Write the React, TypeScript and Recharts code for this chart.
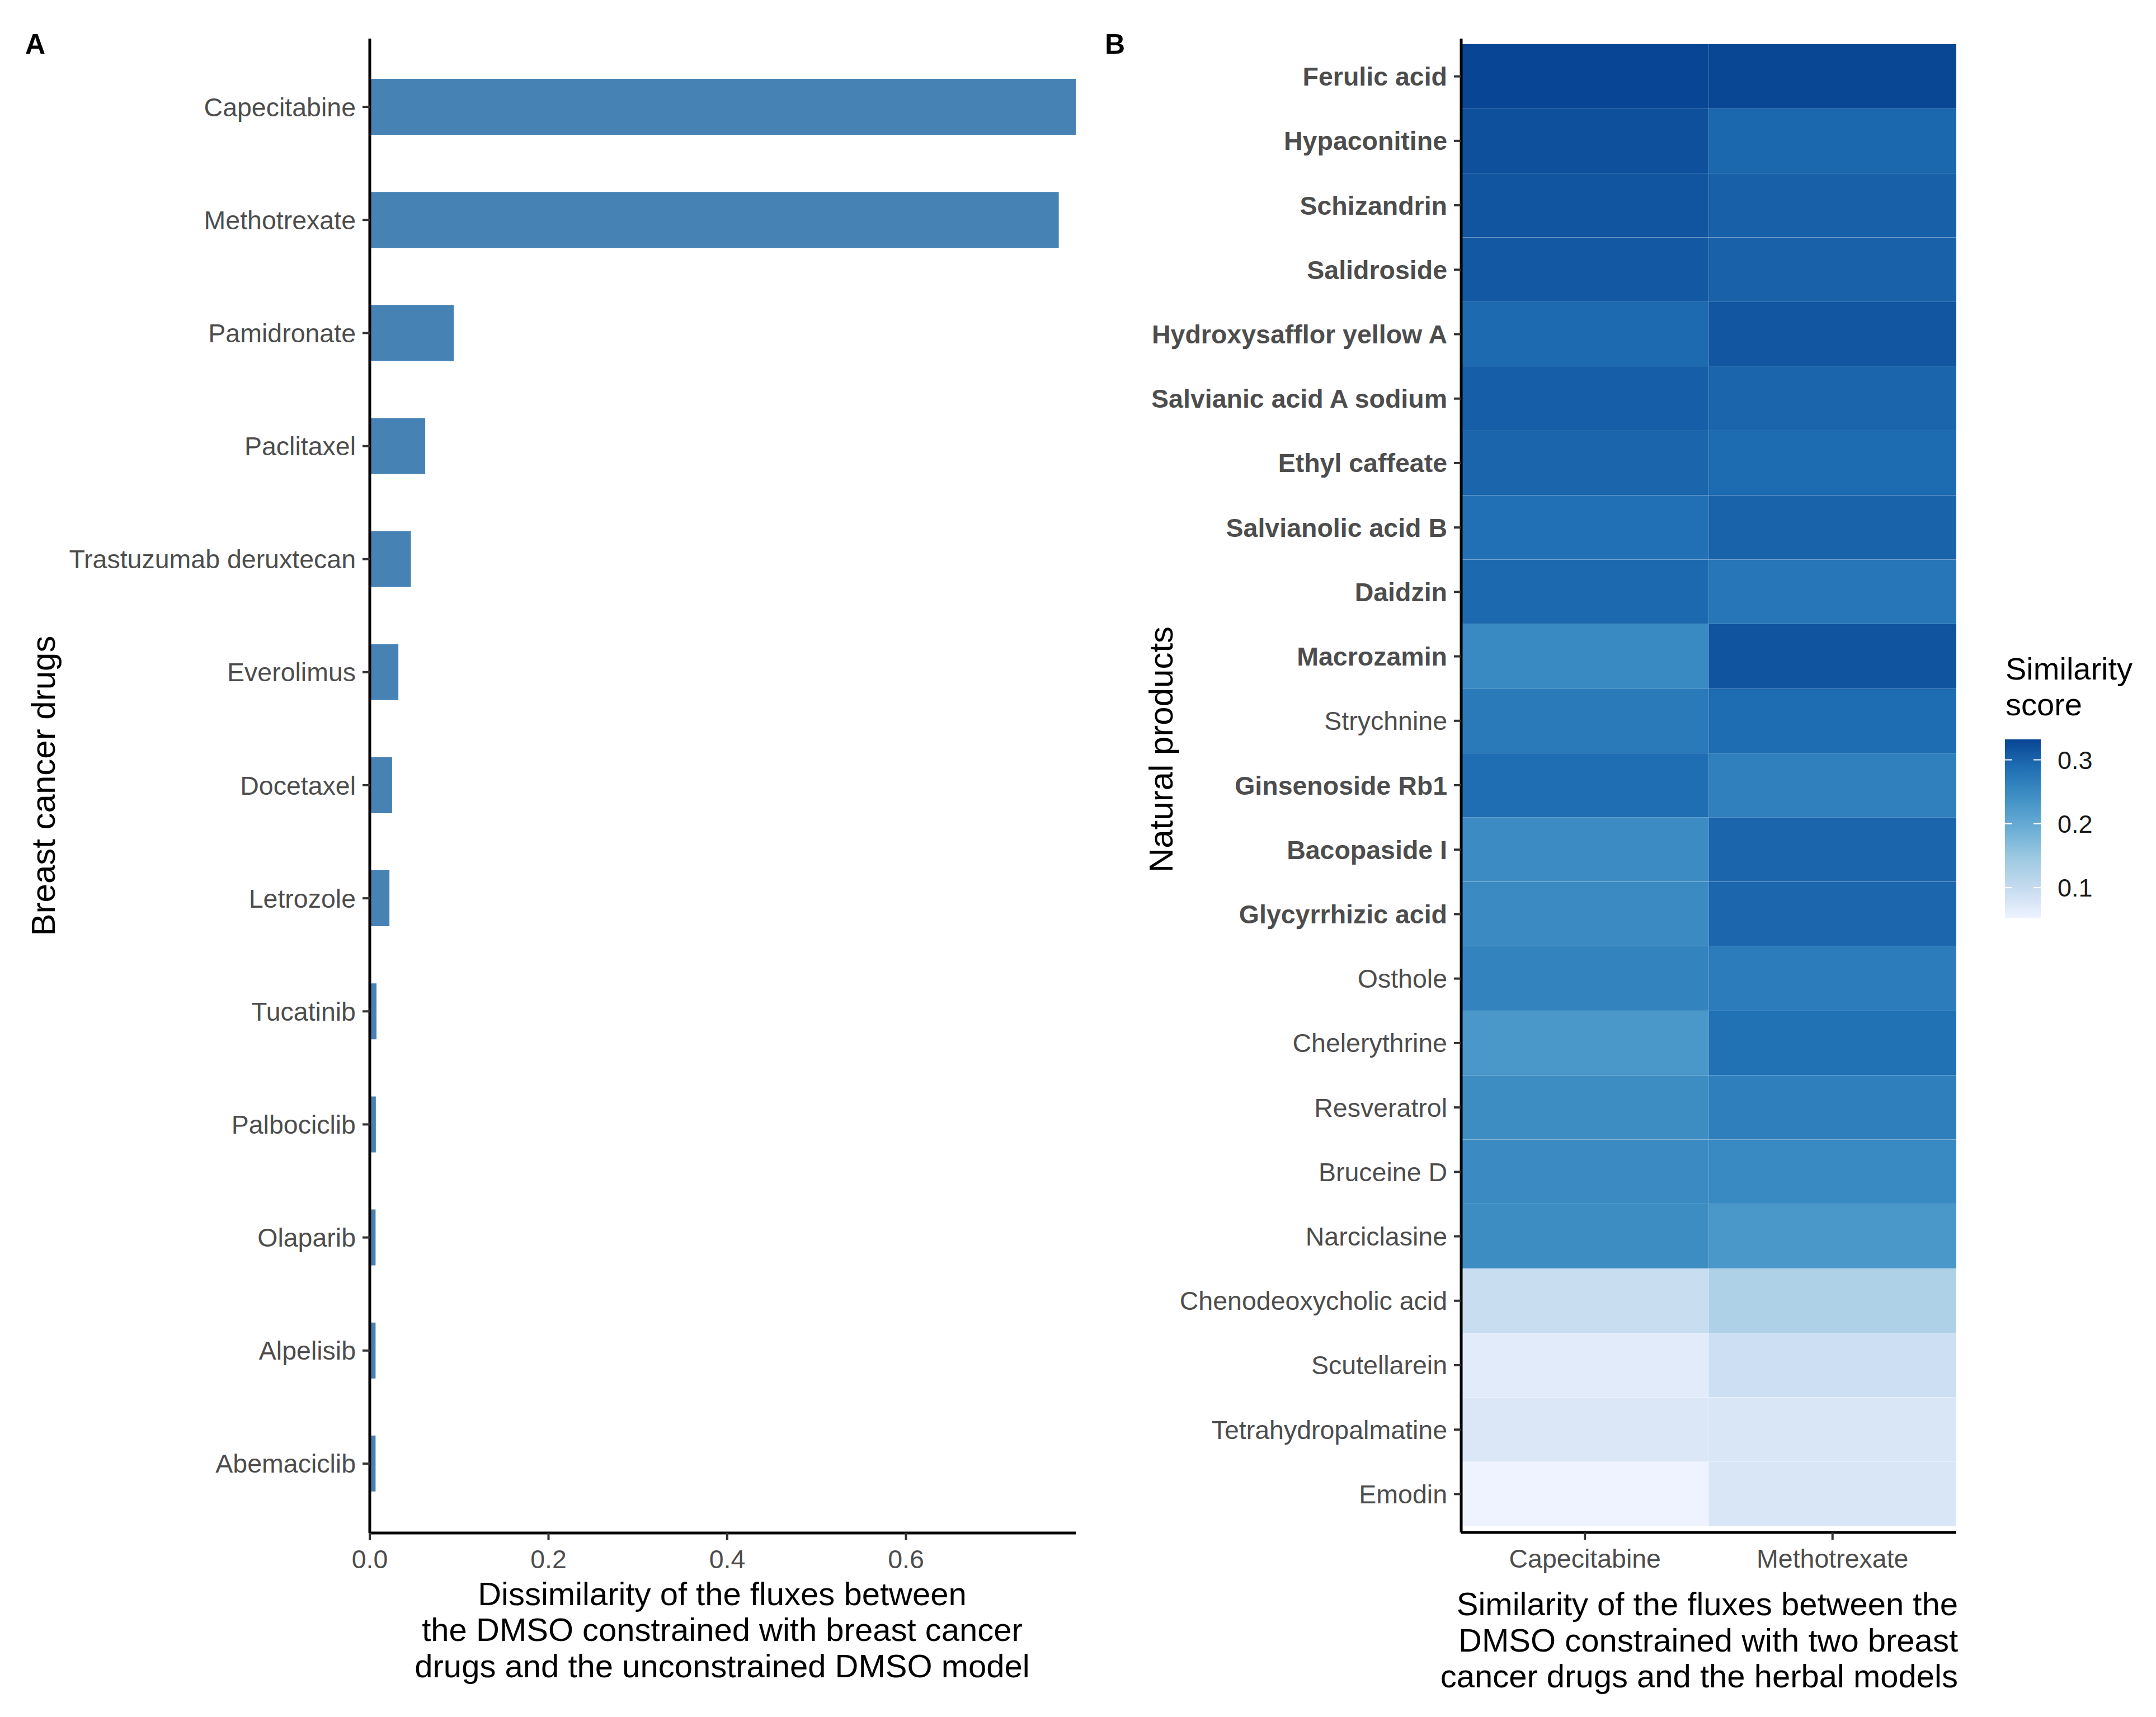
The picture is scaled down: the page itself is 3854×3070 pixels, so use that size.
import React from 'react';
import { BarChart, Bar, XAxis, YAxis, Cell } from 'recharts';

const FONT = '"Liberation Sans", Arial, Helvetica, sans-serif';

// ---------- Panel A data ----------
const drugNames = [
  'Capecitabine', 'Methotrexate', 'Pamidronate', 'Paclitaxel', 'Trastuzumab deruxtecan',
  'Everolimus', 'Docetaxel', 'Letrozole', 'Tucatinib', 'Palbociclib', 'Olaparib',
  'Alpelisib', 'Abemaciclib',
];
const dissimilarity = [0.79, 0.771, 0.094, 0.062, 0.046, 0.032, 0.025, 0.022, 0.0075, 0.0068, 0.0065, 0.0065, 0.0065];
const dissimTicks = [0, 0.2, 0.4, 0.6];
const dissimMax = 0.79;

// ---------- Panel B data ----------
const products = [
  'Ferulic acid', 'Hypaconitine', 'Schizandrin', 'Salidroside', 'Hydroxysafflor yellow A',
  'Salvianic acid A sodium', 'Ethyl caffeate', 'Salvianolic acid B', 'Daidzin', 'Macrozamin',
  'Strychnine', 'Ginsenoside Rb1', 'Bacopaside I', 'Glycyrrhizic acid', 'Osthole',
  'Chelerythrine', 'Resveratrol', 'Bruceine D', 'Narciclasine', 'Chenodeoxycholic acid',
  'Scutellarein', 'Tetrahydropalmatine', 'Emodin',
];
const boldProducts = [
  'Ferulic acid', 'Hypaconitine', 'Schizandrin', 'Salidroside', 'Hydroxysafflor yellow A',
  'Salvianic acid A sodium', 'Ethyl caffeate', 'Salvianolic acid B', 'Daidzin', 'Macrozamin',
  'Ginsenoside Rb1', 'Bacopaside I', 'Glycyrrhizic acid',
];
const capecitabineScores = [0.332, 0.320, 0.315, 0.312, 0.293, 0.305, 0.298, 0.286, 0.294, 0.251, 0.273, 0.290, 0.247, 0.249, 0.260, 0.230, 0.246, 0.249, 0.246, 0.095, 0.068, 0.075, 0.052];
const methotrexateScores = [0.330, 0.295, 0.302, 0.301, 0.314, 0.298, 0.292, 0.300, 0.278, 0.317, 0.291, 0.264, 0.298, 0.297, 0.270, 0.285, 0.266, 0.251, 0.230, 0.126, 0.091, 0.077, 0.077];
const heatColumns = ['Capecitabine', 'Methotrexate'];
const legendTicks = [0.1, 0.2, 0.3];
const bluesPalette = ['#EFF3FF', '#C6DBEF', '#9ECAE1', '#6BAED6', '#4292C6', '#2171B5', '#084594'];

// ---------- helpers ----------
const allScores = [...capecitabineScores, ...methotrexateScores];
const vMin = Math.min(...allScores);
const vMax = Math.max(...allScores);

const hexToRgb = (h: string) => [parseInt(h.slice(1, 3), 16), parseInt(h.slice(3, 5), 16), parseInt(h.slice(5, 7), 16)];
const scoreColor = (v: number) => {
  const t = Math.max(0, Math.min(1, (v - vMin) / (vMax - vMin)));
  const pos = t * (bluesPalette.length - 1);
  const i = Math.min(bluesPalette.length - 2, Math.floor(pos));
  const f = pos - i;
  const a = hexToRgb(bluesPalette[i]);
  const b = hexToRgb(bluesPalette[i + 1]);
  const c = a.map((x, k) => Math.round(x + (b[k] - x) * f));
  return `rgb(${c[0]},${c[1]},${c[2]})`;
};

const barRows = drugNames.map((name, i) => ({ name, value: dissimilarity[i] }));
const heatRows = products.map((product, i) => ({
  product,
  cap: capecitabineScores[i],
  met: methotrexateScores[i],
  capTile: 1,
  metTile: 1,
}));

const axisLineStyle = { stroke: '#000', strokeWidth: 5 };
const tickLineStyle = { stroke: '#333', strokeWidth: 4 };
const tickText = { fill: '#4D4D4D', fontSize: 46.5, fontFamily: FONT };

const ProductTick = (props: any) => {
  const { x, y, payload } = props;
  const bold = boldProducts.includes(payload.value);
  return (
    <text x={x} y={y} dy="0.355em" textAnchor="end" fill="#4D4D4D" fontSize={46.5}
      fontFamily={FONT} fontWeight={bold ? 700 : 400}>
      {payload.value}
    </text>
  );
};

// legend geometry
const LG = { x: 3584, w: 64, top: 1322, bottom: 1642 };
const legendY = (v: number) => LG.bottom - ((v - vMin) / (vMax - vMin)) * (LG.bottom - LG.top);

export default function App() {
  return (
    <div style={{ position: 'absolute', left: 0, top: 0, width: 3854, height: 3070, background: '#fff', fontFamily: FONT }}>
      {/* Panel A */}
      <div style={{ position: 'absolute', left: 0, top: 0 }}>
        <BarChart width={2000} height={3070} data={barRows} layout="vertical"
          margin={{ top: 69, right: 77, bottom: 269, left: 0 }}>
          <XAxis type="number" dataKey="value" domain={[0, dissimMax]} ticks={dissimTicks}
            allowDataOverflow tickFormatter={(v: number) => v.toFixed(1)}
            height={60} tickSize={13} tickMargin={17}
            axisLine={axisLineStyle} tickLine={tickLineStyle} tick={tickText} />
          <YAxis type="category" dataKey="name" width={661} padding={{ top: 21, bottom: 23 }}
            tickSize={13} tickMargin={12} interval={0}
            axisLine={axisLineStyle} tickLine={tickLineStyle} tick={tickText} />
          <Bar dataKey="value" fill="#4682B4" barSize={100} isAnimationActive={false} />
        </BarChart>
      </div>

      {/* Panel B */}
      <div style={{ position: 'absolute', left: 1900, top: 0 }}>
        <BarChart width={1650} height={3070} data={heatRows} layout="vertical"
          barCategoryGap={0} barGap={0}
          margin={{ top: 69, right: 53, bottom: 270, left: 0 }}>
          <XAxis type="number" domain={[0, 2]} ticks={[0.5, 1.5]} allowDataOverflow
            tickFormatter={(v: number) => heatColumns[Math.floor(v)]}
            height={60} tickSize={13} tickMargin={17}
            axisLine={axisLineStyle} tickLine={tickLineStyle} tick={tickText} />
          <YAxis type="category" dataKey="product" width={712} padding={{ top: 10, bottom: 11 }}
            tickSize={13} tickMargin={12} interval={0}
            axisLine={axisLineStyle} tickLine={tickLineStyle} tick={<ProductTick />} />
          <Bar dataKey="capTile" stackId="heat" isAnimationActive={false}>
            {heatRows.map((r, i) => (
              <Cell key={`c${i}`} fill={scoreColor(r.cap)} />
            ))}
          </Bar>
          <Bar dataKey="metTile" stackId="heat" isAnimationActive={false}>
            {heatRows.map((r, i) => (
              <Cell key={`m${i}`} fill={scoreColor(r.met)} />
            ))}
          </Bar>
        </BarChart>
      </div>

      {/* Titles, panel letters, legend */}
      <svg width={3854} height={3070} style={{ position: 'absolute', left: 0, top: 0, pointerEvents: 'none' }}
        fontFamily={FONT}>
        <text x={45} y={96} fontSize={50} fontWeight={700} fill="#000">A</text>
        <text x={1975} y={96} fontSize={50} fontWeight={700} fill="#000">B</text>

        <text transform="translate(98,1405) rotate(-90)" textAnchor="middle" fontSize={60} fill="#000">
          Breast cancer drugs
        </text>
        <text textAnchor="middle" fontSize={58} fill="#000">
          <tspan x={1291} y={2870}>Dissimilarity of the fluxes between</tspan>
          <tspan x={1291} y={2934}>the DMSO constrained with breast cancer</tspan>
          <tspan x={1291} y={2999}>drugs and the unconstrained DMSO model</tspan>
        </text>

        <text transform="translate(2096,1340) rotate(-90)" textAnchor="middle" fontSize={60} fill="#000">
          Natural products
        </text>
        <text textAnchor="end" fontSize={58} fill="#000">
          <tspan x={3500} y={2888}>Similarity of the fluxes between the</tspan>
          <tspan x={3500} y={2953}>DMSO constrained with two breast</tspan>
          <tspan x={3500} y={3017}>cancer drugs and the herbal models</tspan>
        </text>

        <defs>
          <linearGradient id="simGrad" x1="0" y1="1" x2="0" y2="0">
            {bluesPalette.map((c, i) => (
              <stop key={c} offset={i / (bluesPalette.length - 1)} stopColor={c} />
            ))}
          </linearGradient>
        </defs>
        <text fontSize={56} fill="#000">
          <tspan x={3585} y={1215}>Similarity</tspan>
          <tspan x={3585} y={1279}>score</tspan>
        </text>
        <rect x={LG.x} y={LG.top} width={LG.w} height={LG.bottom - LG.top} fill="url(#simGrad)" />
        {legendTicks.map((v) => (
          <g key={v}>
            <line x1={LG.x} x2={LG.x + 13} y1={legendY(v)} y2={legendY(v)} stroke="#fff" strokeWidth={2} />
            <line x1={LG.x + LG.w - 13} x2={LG.x + LG.w} y1={legendY(v)} y2={legendY(v)} stroke="#fff" strokeWidth={2} />
            <text x={3678} y={legendY(v)} dy="0.355em" fontSize={45} fill="#1A1A1A">{v.toFixed(1)}</text>
          </g>
        ))}
      </svg>
    </div>
  );
}
